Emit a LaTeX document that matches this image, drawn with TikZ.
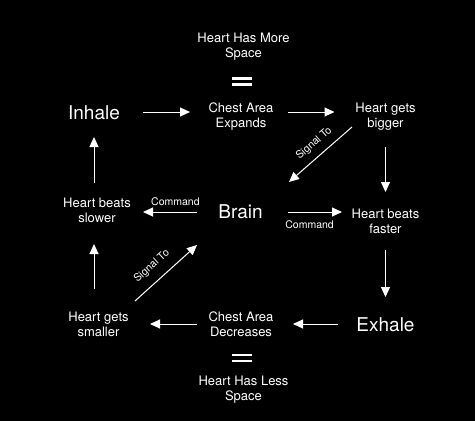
\documentclass[tikz,border=0pt]{standalone}
\usepackage{fontspec}
\setmainfont{TeX Gyre Heros}
\usetikzlibrary{arrows.meta,calc}
\tikzset{
  txt/.style={text=white, align=center, inner sep=0pt, font=\fontsize{13}{15}\selectfont},
  big/.style={text=white, align=center, inner sep=0pt, font=\fontsize{19}{22}\selectfont},
  lbl/.style={text=white, inner sep=1pt, font=\fontsize{10.5}{12}\selectfont},
  arr/.style={draw=white, line width=1pt, -{Triangle[length=10pt,width=9pt]}},
  eqbar/.style={draw=white, line width=2.2pt}
}
\begin{document}
\begin{tikzpicture}[x=1pt,y=-1pt]
\fill[black] (0,0) rectangle (475,421);
\useasboundingbox (0,0) rectangle (475,421);
% nodes
\node[txt] (HMS) at (243.5,47) {Heart Has More\\Space};
\coordinate (EQ1) at (242,81.5);
\node[big] (Inhale) at (94,112.5) {Inhale};
\node[txt] (CAE) at (241,117) {Chest Area\\Expands};
\node[txt] (HGB) at (385.5,117) {Heart gets\\bigger};
\node[txt] (HBS) at (97,210) {Heart beats\\slower};
\node[big] (Brain) at (240.5,211.5) {Brain};
\node[txt] (HBF) at (385.5,221.5) {Heart beats\\faster};
\node[txt] (HGS) at (98.5,324.5) {Heart gets\\smaller};
\node[txt] (CAD) at (241,324.5) {Chest Area\\Decreases};
\node[big] (Exhale) at (385.5,324.5) {Exhale};
\coordinate (EQ2) at (242,358);
\node[txt] (HLS) at (243.5,390) {Heart Has Less\\Space};
% equals signs
\draw[eqbar] ($(EQ1)+(-10,-3)$) -- ($(EQ1)+(10,-3)$);
\draw[eqbar] ($(EQ1)+(-10,3)$) -- ($(EQ1)+(10,3)$);
\draw[eqbar] ($(EQ2)+(-10,-3)$) -- ($(EQ2)+(10,-3)$);
\draw[eqbar] ($(EQ2)+(-10,3)$) -- ($(EQ2)+(10,3)$);
% arrows
\draw[arr] ($(Inhale)+(49,-0.5)$) -- ($(CAE)+(-51,-5)$);
\draw[arr] ($(CAE)+(47,-5)$) -- ($(HGB)+(-51,-5)$);
\draw[arr] ($(HGB)+(-33.5,10)$) -- ($(Brain)+(48.5,-29.5)$)
  node[pos=0.47, sloped, above=6pt, lbl] {Signal To};
\draw[arr] ($(HGB)+(0,30)$) -- ($(HBF)+(0,-29.5)$);
\draw[arr] ($(Brain)+(-43.5,0.5)$) -- ($(HBS)+(46,2)$)
  node[pos=0.4, above=5pt, lbl] {Command};
\draw[arr] ($(Brain)+(47.5,0.5)$) -- ($(HBF)+(-43.5,-9.5)$)
  node[pos=0.4, below=7pt, lbl] {Command};
\draw[arr] ($(HBF)+(0,28.5)$) -- ($(Exhale)+(0,-27.5)$);
\draw[arr] ($(Exhale)+(-47.5,-0.5)$) -- ($(CAD)+(52,-0.5)$);
\draw[arr] ($(CAD)+(-44,-0.5)$) -- ($(HGS)+(51.5,-0.5)$);
\draw[arr] ($(HGS)+(-4.5,-35.5)$) -- ($(HBS)+(-3,34)$);
\draw[arr] ($(HBS)+(-3,-27)$) -- ($(Inhale)+(0,24.5)$);
\draw[arr] ($(HGS)+(36.5,-23.5)$) -- ($(Brain)+(-43.5,33.5)$)
  node[pos=0.43, sloped, above=8pt, lbl] {Signal To};
\end{tikzpicture}
\end{document}
